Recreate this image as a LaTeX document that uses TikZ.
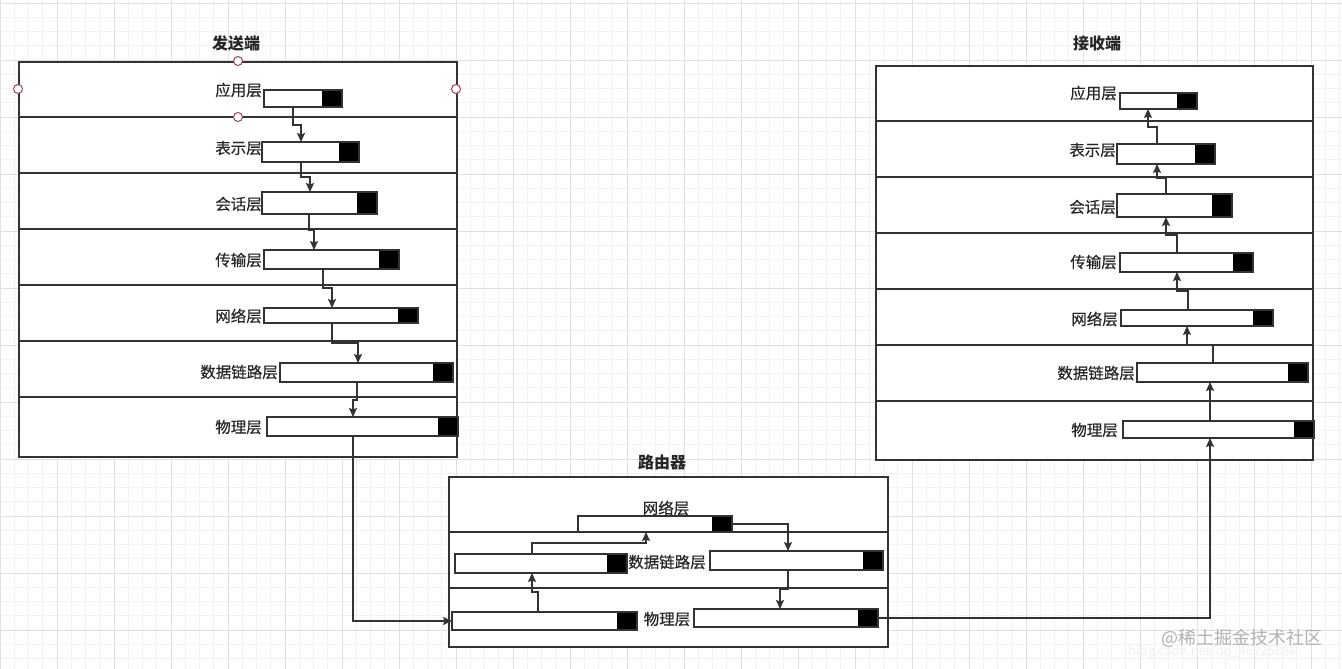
\documentclass[tikz,border=0pt]{standalone}
\usepackage{fontspec}
\setmainfont{Noto Sans CJK SC}
\newfontfamily\layerfont{Noto Sans CJK SC}[FakeBold=0.4]
\usetikzlibrary{arrows.meta}

\definecolor{linegray}{HTML}{333333}
\definecolor{textgray}{HTML}{262626}
\definecolor{gridminor}{HTML}{F2F2F2}
\definecolor{gridmajor}{HTML}{E0E0E0}
\definecolor{handlered}{HTML}{A04058}

\begin{document}
\begin{tikzpicture}[
    x=1pt, y=-1pt,
    box/.style={rectangle, draw=linegray, fill=white, line width=1.8pt,
                anchor=north west, inner sep=0pt},
    divider/.style={draw=linegray, line width=1.8pt},
    bar/.style={rectangle, draw=linegray, fill=white, line width=1.5pt,
                anchor=north west, inner sep=0pt, outer sep=0pt,
                path picture={\fill[black]
                    ([xshift=-20pt]path picture bounding box.north east)
                    rectangle (path picture bounding box.south east);}},
    layername/.style={font=\layerfont\fontsize{15.5}{18}\selectfont, text=textgray,
                      inner sep=0pt},
    title/.style={font=\fontsize{16}{19}\selectfont\bfseries, text=textgray,
                  inner sep=0pt},
    arrow/.style={-{Stealth[length=9pt, width=8pt, inset=1.5pt]}, draw=linegray,
                  line width=1.4pt},
    handle/.style={draw=handlered, fill=white, line width=1pt}
]
\useasboundingbox (0,0) rectangle (1342,669);
\fill[white] (0,0) rectangle (1342,669);

% Raster
\foreach \x in {0,14.25,...,1342} \draw[gridminor, line width=0.8pt] (\x,0) -- (\x,669);
\foreach \y in {3,17.25,...,669} \draw[gridminor, line width=0.8pt] (0,\y) -- (1342,\y);
\foreach \x in {0,57,...,1342} \draw[gridmajor, line width=0.9pt] (\x,0) -- (\x,669);
\foreach \y in {3,60,...,669} \draw[gridmajor, line width=0.9pt] (0,\y) -- (1342,\y);

% Titel
\node[title] (sendtitle) at (236,43) {发送端};
\node[title] (recvtitle) at (1097,43) {接收端};
\node[title] (routertitle) at (662,462) {路由器};

% Rahmen mit Schichten
\node[box, minimum width=438pt, minimum height=395pt] (send) at (18,61) {};
\foreach \y in {117,173,229,285,341,397}
    \draw[divider] (send.west |- 0,\y) -- (send.east |- 0,\y);
\node[box, minimum width=437pt, minimum height=394pt] (recv) at (875,65) {};
\foreach \y in {121,177,233,289,345,401}
    \draw[divider] (recv.west |- 0,\y) -- (recv.east |- 0,\y);
\node[box, minimum width=439pt, minimum height=170pt] (router) at (448,476) {};
\foreach \y in {532,588}
    \draw[divider] (router.west |- 0,\y) -- (router.east |- 0,\y);

% Auswahlpunkte
\foreach \p in {(238,61),(18,89),(456,89),(238,117)}
    \draw[handle] \p circle[radius=4.5];

% Sender
\node[bar, minimum width=78pt, minimum height=17pt] (s1) at (264,90) {};
\node[bar, minimum width=97pt, minimum height=20pt] (s2) at (262,142) {};
\node[bar, minimum width=115pt, minimum height=22pt] (s3) at (262,192) {};
\node[bar, minimum width=135pt, minimum height=19pt] (s4) at (264,250) {};
\node[bar, minimum width=154pt, minimum height=15pt] (s5) at (264,308) {};
\node[bar, minimum width=173pt, minimum height=19pt] (s6) at (280,363) {};
\node[bar, minimum width=191pt, minimum height=19pt] (s7) at (267,417) {};
\node[layername, anchor=east] (s1t) at (262,90) {应用层};
\node[layername, anchor=east] (s2t) at (262,148) {表示层};
\node[layername, anchor=east] (s3t) at (262,204) {会话层};
\node[layername, anchor=east] (s4t) at (262,260) {传输层};
\node[layername, anchor=east] (s5t) at (262,316) {网络层};
\node[layername, anchor=east] (s6t) at (278,372) {数据链路层};
\node[layername, anchor=east] (s7t) at (262,427) {物理层};

% Router
\node[bar, minimum width=154pt, minimum height=16pt] (rn) at (578,516) {};
\node[bar, minimum width=172pt, minimum height=19pt] (rd1) at (455,554) {};
\node[bar, minimum width=173pt, minimum height=19pt] (rd2) at (710,551) {};
\node[bar, minimum width=185pt, minimum height=18pt] (rp1) at (452,612) {};
\node[bar, minimum width=184pt, minimum height=18pt] (rp2) at (694,609) {};
\node[layername] (rnt) at (666,508) {网络层};
\node[layername] (rdt) at (667,562) {数据链路层};
\node[layername] (rpt) at (667,619) {物理层};

% Empfaenger
\node[bar, minimum width=77pt, minimum height=16pt] (v1) at (1120,93) {};
\node[bar, minimum width=98pt, minimum height=20pt] (v2) at (1117,144) {};
\node[bar, minimum width=115pt, minimum height=23pt] (v3) at (1117,194) {};
\node[bar, minimum width=133pt, minimum height=19pt] (v4) at (1120,253) {};
\node[bar, minimum width=152pt, minimum height=16pt] (v5) at (1121,310) {};
\node[bar, minimum width=171pt, minimum height=19pt] (v6) at (1137,363) {};
\node[bar, minimum width=191pt, minimum height=17pt] (v7) at (1123,421) {};
\node[layername, anchor=east] (v1t) at (1117,93) {应用层};
\node[layername, anchor=east] (v2t) at (1116,150) {表示层};
\node[layername, anchor=east] (v3t) at (1116,207) {会话层};
\node[layername, anchor=east] (v4t) at (1117,262) {传输层};
\node[layername, anchor=east] (v5t) at (1118,319) {网络层};
\node[layername, anchor=east] (v6t) at (1135,373) {数据链路层};
\node[layername, anchor=east] (v7t) at (1118,430) {物理层};

% Pfeile Sender (abwaerts)
\draw[arrow] (293,0 |- s1.south) -- (293,125) -- (301,125) -- (301,0 |- s2.north);
\draw[arrow] (301,0 |- s2.south) -- (301,177) -- (310,177) -- (310,0 |- s3.north);
\draw[arrow] (309,0 |- s3.south) -- (309,230) -- (314,230) -- (314,0 |- s4.north);
\draw[arrow] (323,0 |- s4.south) -- (323,288) -- (332,288) -- (332,0 |- s5.north);
\draw[arrow] (332,0 |- s5.south) -- (332,343) -- (358,343) -- (358,0 |- s6.north);
\draw[arrow] (357,0 |- s6.south) -- (357,400) -- (353,400) -- (353,0 |- s7.north);
\draw[arrow] (353,0 |- s7.south) |- (rp1.west);

% Pfeile Router
\draw[arrow] (538,0 |- rp1.north) -- (538,592) -- (532,592) -- (532,0 |- rd1.south);
\draw[arrow] (532,0 |- rd1.north) -- (532,543) -- (646,543) -- (646,0 |- rn.south);
\draw[arrow] (rn.east) -| (788,0 |- rd2.north);
\draw[arrow] (788,0 |- rd2.south) -- (788,589) -- (780,589) -- (780,0 |- rp2.north);
\draw[arrow] (rp2.east) -| (1210,0 |- v7.south);

% Pfeile Empfaenger (aufwaerts)
\draw[arrow] (1210,0 |- v7.north) -- (1210,0 |- v6.south);
\draw[arrow] (1213,0 |- v6.north) -- (1213,345) -- (1187,345) -- (1187,0 |- v5.south);
\draw[arrow] (1188,0 |- v5.north) -- (1188,291) -- (1177,291) -- (1177,0 |- v4.south);
\draw[arrow] (1177,0 |- v4.north) -- (1177,235) -- (1166,235) -- (1166,0 |- v3.south);
\draw[arrow] (1166,0 |- v3.north) -- (1166,178) -- (1157,178) -- (1157,0 |- v2.south);
\draw[arrow] (1157,0 |- v2.north) -- (1157,127) -- (1148,127) -- (1148,0 |- v1.south);

% Wasserzeichen
\node[font=\fontsize{13}{15}\selectfont, text=gray!12, anchor=west, inner sep=0pt] (csdn) at (1128,652) {blog.csdn.net/qq\_46225886};
\node[font=\fontsize{18}{21}\selectfont, text=gray!60, anchor=west, inner sep=0pt] (mark) at (1161,638) {@稀土掘金技术社区};

\end{tikzpicture}
\end{document}
